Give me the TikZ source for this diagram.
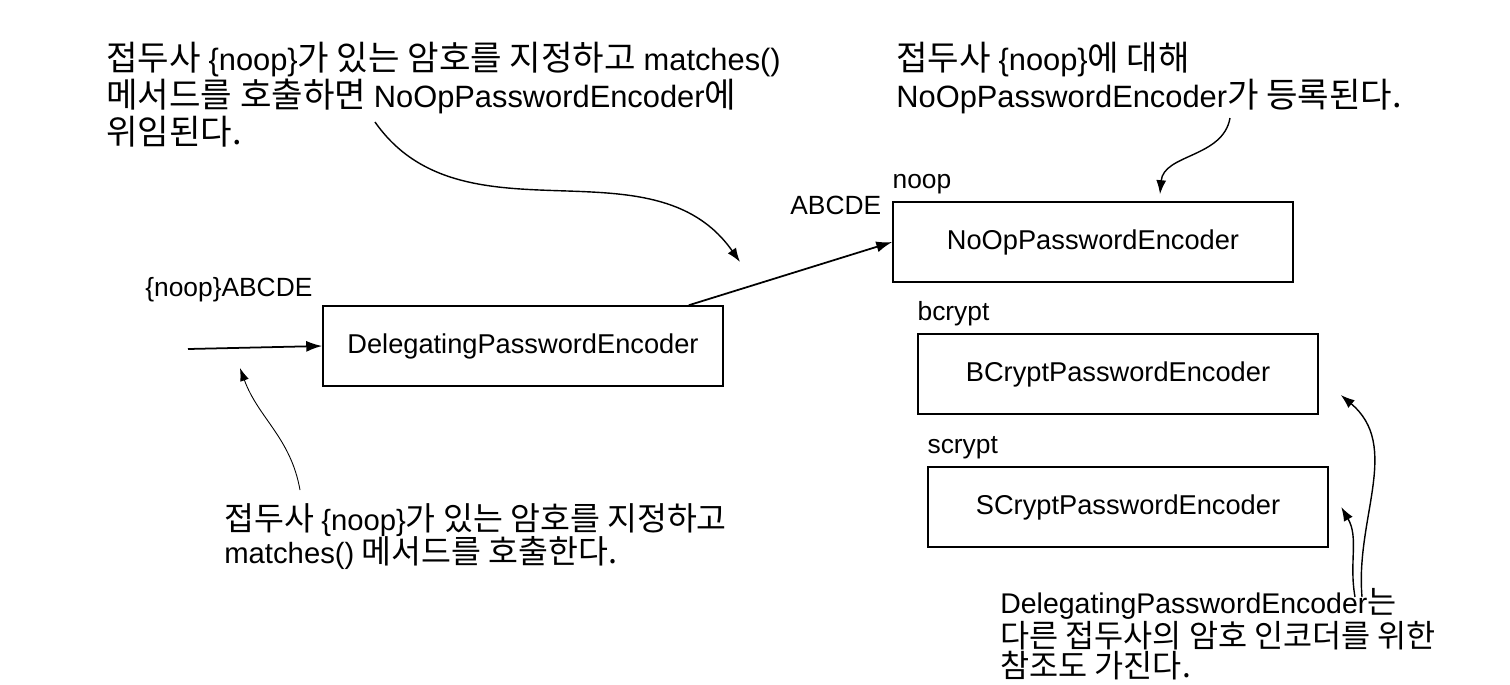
\documentclass[tikz,border=0pt]{standalone}
\usepackage{fontspec}
\setmainfont{Noto Sans CJK KR}
\newfontfamily\lat{Liberation Sans}
\newfontfamily\notelat[Scale=0.9]{Liberation Sans}
\usetikzlibrary{arrows.meta,positioning}

\begin{document}
\begin{tikzpicture}[
  x=.02cm,y=-.02cm,
  encoder/.style={
    draw=black,line width=.9pt,minimum width=8cm,minimum height=1.6cm,
    inner sep=0pt,font=\fontsize{15.5}{18}\selectfont\lat
  },
  keylabel/.style={font=\fontsize{15}{18}\selectfont\lat,inner sep=0pt},
  note/.style={
    font=\fontsize{19.5}{21}\selectfont,align=left,inner sep=0pt
  },
  flow/.style={-{Latex[length=3.2mm,width=2.2mm]},line width=1pt},
  callout/.style={-{Latex[length=2.8mm,width=2mm]},line width=.8pt},
  thincallout/.style={-{Latex[length=2.6mm,width=1.8mm]},line width=.5pt}
]
  \useasboundingbox (0,0) rectangle (1510,684);

  % encoders
  \node[encoder] (deleg) at (523,346) {DelegatingPasswordEncoder};
  \node[encoder] (noop) at (1093,242) {NoOpPasswordEncoder};
  \node[encoder] (bcrypt) at (1118,374) {BCryptPasswordEncoder};
  \node[encoder] (scrypt) at (1128,507) {SCryptPasswordEncoder};

  % prefixes and passwords
  \node[keylabel,anchor=south west] (noopkey)
    at ([yshift=4pt]noop.north west) {noop};
  \node[keylabel,anchor=south west] (bcryptkey)
    at ([yshift=4pt]bcrypt.north west) {bcrypt};
  \node[keylabel,anchor=south west] (scryptkey)
    at ([yshift=4pt]scrypt.north west) {scrypt};
  \node[keylabel,anchor=south west] (rawpw) at (145,302) {\{noop\}ABCDE};
  \node[keylabel,anchor=south west] (plainpw) at (790,215) {ABCDE};

  \coordinate (in) at (188,349);
  \draw[flow] (in) -- (deleg.west);
  \draw[flow] ([xshift=-.7cm]deleg.north east) -- (noop.west);

  % notes
  \node[note,anchor=north west] (callnote) at (106,42)
    {접두사 {\notelat\{noop\}}가 있는 암호를 지정하고 {\notelat matches()}\\
     메서드를 호출하면 {\notelat NoOpPasswordEncoder}에\\
     위임된다.};
  \node[note,anchor=north west] (regnote) at (896,42)
    {접두사 {\notelat\{noop\}}에 대해\\
     {\notelat NoOpPasswordEncoder}가 등록된다.};
  \node[note,anchor=north west,font=\fontsize{18.5}{19}\selectfont]
    (matchnote) at (224,503)
    {접두사 {\notelat\{noop\}}가 있는 암호를 지정하고\\
     {\notelat matches()} 메서드를 호출한다.};
  \node[note,anchor=north west,font=\fontsize{18}{17}\selectfont]
    (refnote) at (1000,588)
    {{\notelat DelegatingPasswordEncoder}는\\
     다른 접두사의 암호 인코더를 위한\\
     참조도 가진다.};

  \coordinate (callstart) at (375,122);
  \coordinate (callend) at (740,262);
  \draw[callout] (callstart) to[out=-55,in=125] (callend);
  \coordinate (regstart) at (1230,118);
  \draw[callout] (regstart) to[out=-100,in=85]
    ([xshift=1.34cm,yshift=4pt]noop.north);
  \coordinate (matchstart) at (300,490);
  \draw[thincallout] (matchstart) to[out=100,in=-70] (240,368);
  \coordinate (refstart) at (1362,597);
  \draw[callout] (refstart) to[out=95,in=-40]
    ([xshift=.44cm,yshift=-.42cm]bcrypt.east);
  \coordinate (refstarttwo) at (1355,597);
  \draw[callout] (refstarttwo) to[out=100,in=-60]
    ([xshift=.25cm]scrypt.east);
\end{tikzpicture}
\end{document}
